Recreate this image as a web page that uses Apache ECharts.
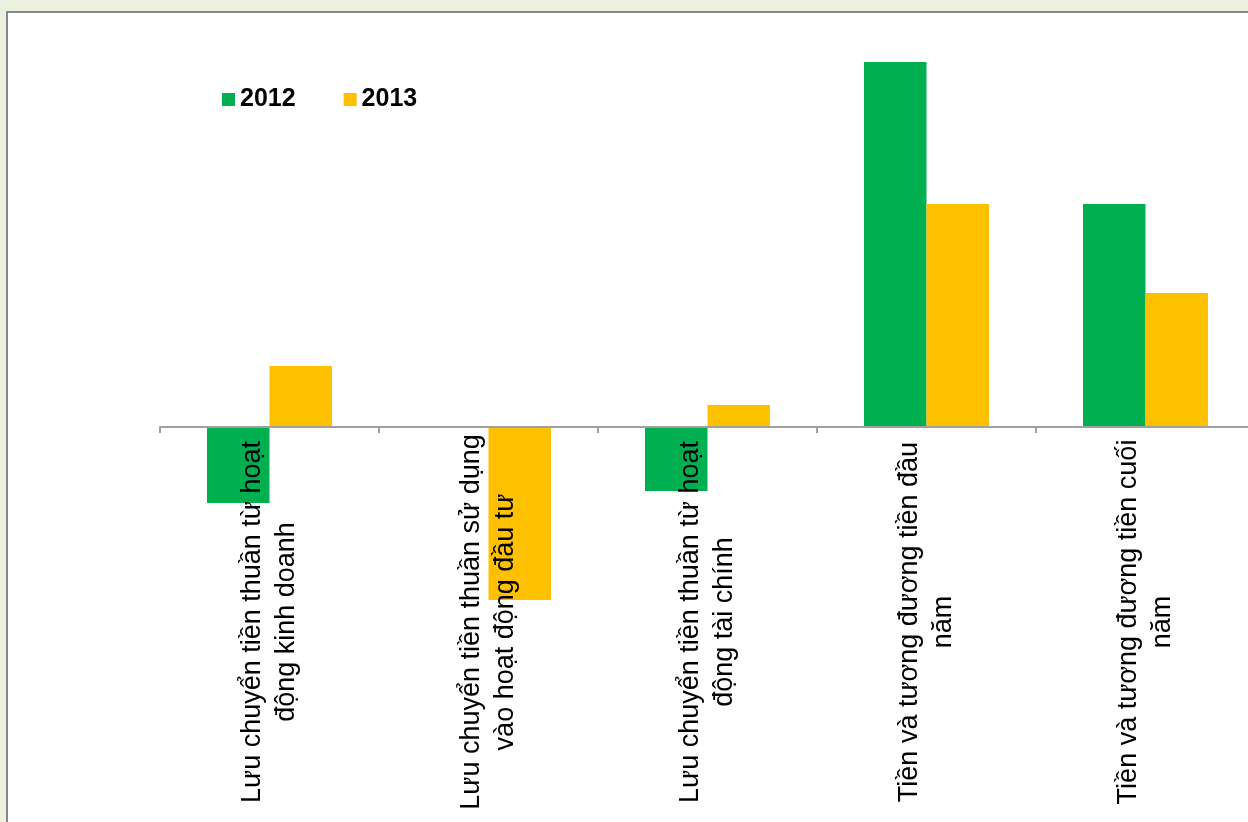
<!DOCTYPE html>
<html>
<head>
<meta charset="utf-8">
<script src="https://cdn.jsdelivr.net/npm/echarts@6/dist/echarts.min.js"></script>
<style>
  html, body { margin: 0; padding: 0; background: #ebf1de; }
  #chart { width: 1248px; height: 822px; }
</style>
</head>
<body>
<div id="chart"></div>
<script>
const categories = [
  "Lưu chuyển tiền thuần từ hoạt\nđộng kinh doanh",
  "Lưu chuyển tiền thuần sử dụng\nvào hoạt động đầu tư",
  "Lưu chuyển tiền thuần từ hoạt\nđộng tài chính",
  "Tiền và tương đương tiền đầu\nnăm",
  "Tiền và tương đương tiền cuối\nnăm",
];
const values2012 = [-76, -1, -64, 365, 223];
const values2013 = [61, -173, 22, 223, 134];

const chart = echarts.init(document.getElementById("chart"));

const option = {
  animation: false,
  backgroundColor: "#ebf1de",
  graphic: [
    {
      type: "rect",
      shape: { x: 7, y: 12, width: 1260, height: 830 },
      style: { fill: "#ffffff", stroke: "#878787", lineWidth: 2 },
      z: -10,
    },
  ],
  legend: {
    left: 222,
    top: 87,
    padding: 0,
    icon: "rect",
    itemWidth: 13,
    itemHeight: 13,
    itemGap: 48,
    textStyle: {
      fontFamily: "Liberation Sans, Arial, sans-serif",
      fontSize: 25,
      fontWeight: "bold",
      color: "#000",
    },
    data: ["2012", "2013"],
  },
  grid: {
    left: 160,
    top: 27,
    width: 1095,
    height: 795,
    outerBoundsMode: "none",
  },
  xAxis: {
    type: "category",
    data: categories,
    z: 10,
    axisLine: { onZero: true, lineStyle: { color: "#a0a0a0", width: 2 } },
    axisTick: { show: true, length: 6, lineStyle: { color: "#a0a0a0", width: 2 } },
    axisLabel: {
      interval: 0,
      rotate: 90,
      align: "center",
      verticalAlign: "middle",
      margin: -200,
      padding: [11, 0, 0, 0],
      fontFamily: "Liberation Sans, Arial, sans-serif",
      fontSize: 27,
      lineHeight: 34,
      color: "#000",
    },
  },
  yAxis: {
    type: "value",
    min: -395,
    max: 400,
    show: false,
    splitLine: { show: false },
  },
  series: [
    {
      name: "2012",
      type: "bar",
      data: values2012,
      barWidth: 62.5,
      barGap: "0%",
      itemStyle: { color: "#00b050" },
    },
    {
      name: "2013",
      type: "bar",
      data: values2013,
      barWidth: 62.5,
      itemStyle: { color: "#ffc000" },
    },
  ],
};

chart.setOption(option);
</script>
</body>
</html>
